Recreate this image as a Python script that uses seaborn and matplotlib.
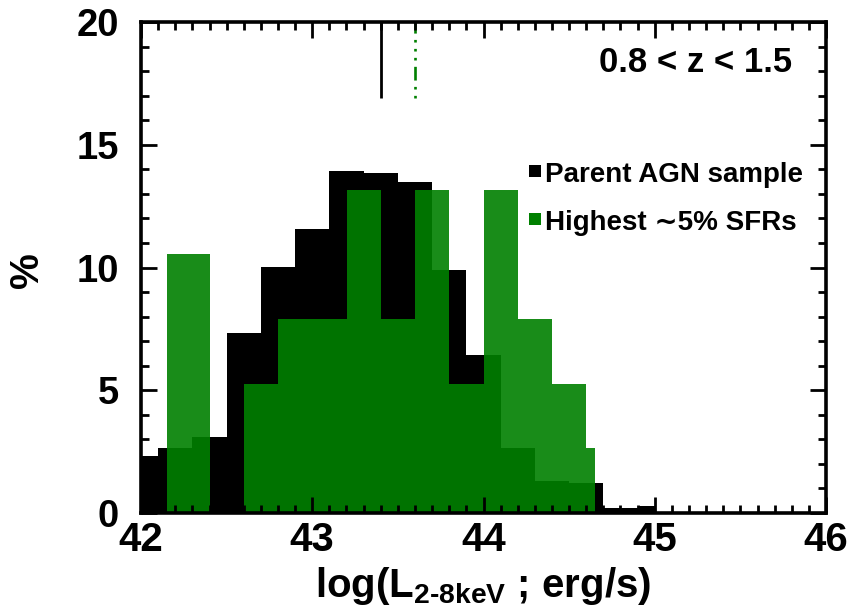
import numpy as np
import pandas as pd
import seaborn as sns
import matplotlib
matplotlib.use("Agg")
import matplotlib.pyplot as plt
from matplotlib.ticker import MultipleLocator

# ---- data ----
parent_edges = [41.9, 42.1, 42.3, 42.5, 42.7, 42.9, 43.1, 43.3, 43.5, 43.7,
                43.9, 44.1, 44.3, 44.5, 44.7, 44.9, 45.0]
parent_pct = [2.32, 2.63, 3.08, 7.32, 10.03, 11.56, 13.94, 13.83, 13.5, 9.9,
              6.44, 2.63, 1.29, 1.22, 0.2, 0.3]

high_edges = [42.15, 42.4, 42.6, 42.8, 43.0, 43.2, 43.4, 43.6, 43.8, 44.0,
              44.2, 44.4, 44.6, 44.65]
high_pct = [10.53, 0.0, 5.26, 7.89, 7.89, 13.16, 7.89, 13.16, 5.26, 13.16,
            7.89, 5.26, 2.63]

median_parent = 43.4
median_high = 43.6
median_line_bottom = 16.9

legend_labels = ["Parent AGN sample", "Highest \u223c5% SFRs"]
z_label = "0.8 < z < 1.5"

# ---- style ----
sns.set_theme(style="ticks")
plt.rcParams["font.family"] = ["Liberation Sans", "DejaVu Sans"]
plt.rcParams["font.weight"] = "bold"
plt.rcParams["text.color"] = "black"
plt.rcParams["axes.labelcolor"] = "black"
plt.rcParams["xtick.color"] = "black"
plt.rcParams["ytick.color"] = "black"
plt.rcParams["xtick.labelcolor"] = "black"
plt.rcParams["ytick.labelcolor"] = "black"
plt.rcParams["mathtext.fontset"] = "custom"
plt.rcParams["mathtext.rm"] = "Liberation Sans:bold"
plt.rcParams["mathtext.it"] = "Liberation Sans:bold"
plt.rcParams["mathtext.bf"] = "Liberation Sans:bold"
plt.rcParams["mathtext.sf"] = "Liberation Sans:bold"
plt.rcParams["mathtext.default"] = "rm"

GREEN = "#008000"

fig = plt.figure(figsize=(8.51, 6.12), dpi=100)
ax = fig.add_axes([141 / 851, 1 - 513 / 612, 685 / 851, 491 / 612])

parent_df = pd.DataFrame({
    "x": [(a + b) / 2 for a, b in zip(parent_edges[:-1], parent_edges[1:])],
    "w": parent_pct,
})
high_df = pd.DataFrame({
    "x": [(a + b) / 2 for a, b in zip(high_edges[:-1], high_edges[1:])],
    "w": high_pct,
})

sns.histplot(data=parent_df, x="x", weights="w", bins=parent_edges,
             element="step", fill=True, color="black", alpha=1.0,
             linewidth=0, ax=ax)
sns.histplot(data=high_df, x="x", weights="w", bins=high_edges,
             element="step", fill=True, color=GREEN, alpha=0.9,
             linewidth=0, ax=ax)

# median markers at the top
ax.plot([median_parent, median_parent], [median_line_bottom, 20],
        color="black", lw=2.0, solid_capstyle="butt")
ax.plot([median_high, median_high], [median_line_bottom, 20],
        color=GREEN, lw=1.9,
        linestyle=(11, (5.2, 2.4, 1.0, 2.4, 1.0, 2.4, 1.0, 2.4)))

ax.set_xlim(42, 46)
ax.set_ylim(0, 20)
ax.xaxis.set_major_locator(MultipleLocator(1))
ax.xaxis.set_minor_locator(MultipleLocator(0.1))
ax.yaxis.set_major_locator(MultipleLocator(5))
ax.yaxis.set_minor_locator(MultipleLocator(1))
ax.set_axisbelow(False)

for s in ax.spines.values():
    s.set_linewidth(2.6)
    s.set_color("black")
    s.set_visible(True)
    s.set_zorder(5)

ax.tick_params(which="both", direction="in", top=True, right=True,
               width=2.0, color="black", labelcolor="black")
ax.tick_params(which="major", length=11.5)
ax.tick_params(which="minor", length=5.5)
ax.tick_params(axis="x", which="major", labelsize=29, pad=6)
ax.tick_params(axis="y", which="major", labelsize=27.5, pad=16)
for lab in ax.get_xticklabels() + ax.get_yticklabels():
    lab.set_fontweight("bold")

ax.set_xlabel("log(L$_{2\u20108keV}$ ; erg/s)", fontsize=29,
              fontweight="bold", color="black")
ax.xaxis.set_label_coords(0.5, -0.105)
ax.set_ylabel("%", fontsize=29, fontweight="bold", color="black")
ax.yaxis.label.set_va("center")
ax.yaxis.set_label_coords(-0.1664, 0.495)

ax.text(0.95, 0.898, z_label, transform=ax.transAxes, ha="right",
        va="baseline", fontsize=25, fontweight="bold", color="black")

# legend
ax.plot([0.575], [0.6965], "s", color="black", ms=8.6, mew=0,
        transform=ax.transAxes, clip_on=False)
ax.plot([0.575], [0.5988], "s", color=GREEN, ms=8.6, mew=0,
        transform=ax.transAxes, clip_on=False)
ax.text(0.590, 0.6748, legend_labels[0], transform=ax.transAxes,
        ha="left", va="baseline", fontsize=20, fontweight="bold",
        color="black")
ax.text(0.590, 0.5764, legend_labels[1], transform=ax.transAxes,
        ha="left", va="baseline", fontsize=20, fontweight="bold",
        color="black")

fig.savefig("out.png", dpi=100)
